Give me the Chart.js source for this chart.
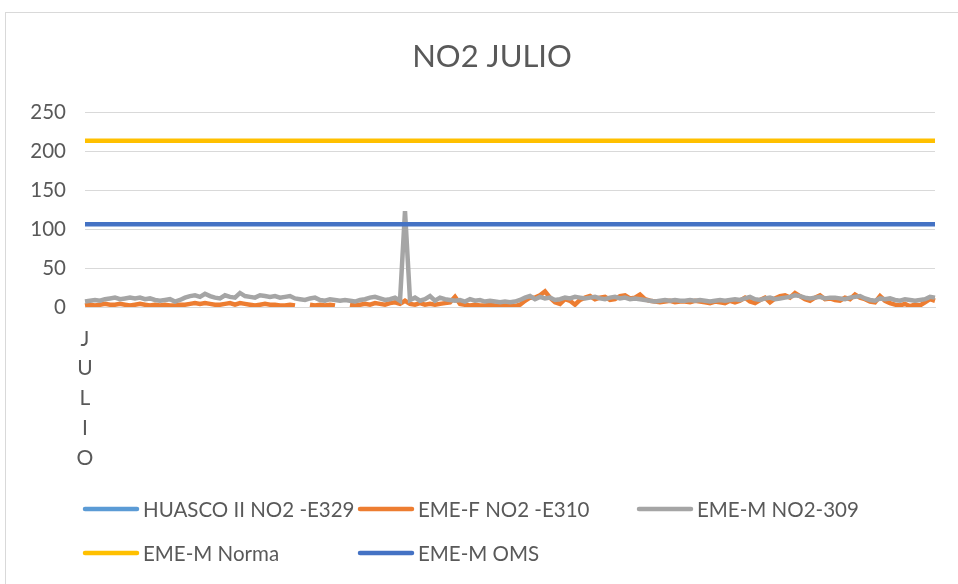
<!DOCTYPE html>
<html>
<head>
<meta charset="utf-8">
<script src="https://cdn.jsdelivr.net/npm/chart.js@4/dist/chart.umd.min.js"></script>
<style>
  html, body { margin: 0; padding: 0; background: #fff; overflow: hidden; }
  #frame { position: absolute; left: 5px; top: 12px; width: 970px; height: 600px; border: 1px solid #d9d9d9; }
  #wrap { position: absolute; left: 0; top: 0; width: 958px; height: 584px; }
</style>
</head>
<body>
<div id="frame"></div>
<div id="wrap"><canvas id="chart" width="958" height="584"></canvas></div>
<script>
// hourly readings for july
const emeF = [
  2,3,2,3,4,3,3,4,3,2,
  3,4,3,2,3,2,3,2,2,3,
  3,4,5,4,5,4,3,3,4,5,
  3,5,4,3,2,3,4,3,3,2,
  2,3,2,null,null,3,2,3,2,3,
  2,null,null,3,2,3,4,3,5,4,
  3,5,6,4,8,4,3,5,3,4,
  3,4,5,6,13,4,3,2,3,2,
  2,3,2,1,1,2,1,3,8,12,
  12,15,20,12,6,4,10,8,3,9,
  12,14,10,12,13,9,10,14,15,11,
  12,16,10,8,7,6,7,8,6,7,
  7,6,8,7,6,5,7,6,5,8,
  6,8,12,7,5,9,12,6,11,14,
  15,12,18,14,10,8,12,15,10,11,
  9,8,12,10,16,12,10,7,6,14,
  8,5,3,2,4,1,3,2,6,10,
  8
];
const emeM = [
  7,8,9,8,10,11,12,10,11,12,
  11,12,10,11,9,8,9,10,7,9,
  12,14,15,13,17,14,12,11,15,13,
  12,18,14,13,12,15,14,13,14,12,
  13,14,11,10,9,11,12,9,8,10,
  9,8,9,8,7,9,10,12,13,11,
  9,10,12,8,123,9,12,8,10,14,
  8,12,10,9,8,9,7,10,8,9,
  7,8,7,6,7,6,7,9,12,14,
  10,13,11,12,9,10,12,11,13,12,
  11,12,13,11,10,12,13,11,12,10,
  11,10,9,8,7,8,9,8,9,8,
  8,9,8,9,8,7,8,9,8,9,
  10,9,11,13,10,9,11,12,10,11,
  12,13,15,14,12,11,12,13,11,12,
  12,11,10,12,13,14,11,9,8,11,
  10,11,9,8,10,9,8,9,10,13,
  12
];
const huasco = emeM.map(() => null); // no readings shown
const NORMA = 213;
const OMS = 106;
const monthLabel = "JULIO";
const labels = emeM.map((v, i) => i === 0 ? monthLabel.split("") : "");

const seriesNames = ["HUASCO II NO2 -E329", "EME-F NO2 -E310", "EME-M NO2-309", "EME-M Norma", "EME-M OMS"];
const seriesColors = ["#5b9bd5", "#ed7d31", "#a5a5a5", "#ffc000", "#4472c4"];
const yTicks = [0, 50, 100, 150, 200, 250];

const textColor = "#595959";
const font = "Lato, 'Open Sans', sans-serif";

const seriesData = [huasco, emeF, emeM, labels.map(() => NORMA), labels.map(() => OMS)];

// excel style legend in a grid + the title
const excelBits = {
  id: "excelBits",
  afterDraw(chart) {
    const ctx = chart.ctx;
    ctx.save();
    ctx.fillStyle = textColor;
    ctx.font = "31px " + font;
    ctx.textAlign = "center";
    ctx.textBaseline = "middle";
    ctx.fillText("NO2 JULIO", 492, 57);

    const cols = [83, 358, 637];
    const rows = [509, 553];
    ctx.font = "20.5px " + font;
    ctx.textAlign = "left";
    chart.data.datasets.forEach((ds, k) => {
      const x = cols[k % 3], y = rows[Math.floor(k / 3)];
      ctx.strokeStyle = ds.borderColor;
      ctx.lineWidth = 4.5;
      ctx.lineCap = "round";
      ctx.beginPath();
      ctx.moveTo(x + 2, y);
      ctx.lineTo(x + 54, y);
      ctx.stroke();
      ctx.fillText(ds.label, x + 60, y + 1);
    });
    ctx.restore();
  }
};

new Chart(document.getElementById("chart"), {
  type: "line",
  data: {
    labels: labels,
    datasets: seriesData.map((d, k) => ({
      label: seriesNames[k],
      data: d,
      borderColor: seriesColors[k],
      backgroundColor: seriesColors[k],
      borderWidth: 4.5,
      pointRadius: 0,
      tension: 0,
      spanGaps: false,
      order: 5 - k
    }))
  },
  options: {
    responsive: false,
    animation: false,
    layout: { padding: { top: 112, left: 20, right: 23, bottom: 97 } },
    plugins: {
      legend: { display: false },
      title: { display: false },
      tooltip: { enabled: false }
    },
    scales: {
      x: {
        grid: { display: false },
        border: { display: true, color: "#d9d9d9", width: 1 },
        ticks: {
          autoSkip: false,
          maxRotation: 0,
          minRotation: 0,
          padding: 9,
          color: textColor,
          font: { family: font, size: 21, lineHeight: 1.42 }
        },
        afterFit: (s) => { s.height = 180; }
      },
      y: {
        min: 0,
        max: 250,
        afterBuildTicks: (s) => { s.ticks = yTicks.map(v => ({ value: v })); },
        grid: { color: "#d9d9d9", lineWidth: 1, drawTicks: false },
        border: { display: false },
        ticks: {
          padding: 19,
          color: textColor,
          font: { family: font, size: 20.5 }
        },
        afterFit: (s) => { s.width = 65; }
      }
    }
  },
  plugins: [excelBits]
});
</script>
</body>
</html>
